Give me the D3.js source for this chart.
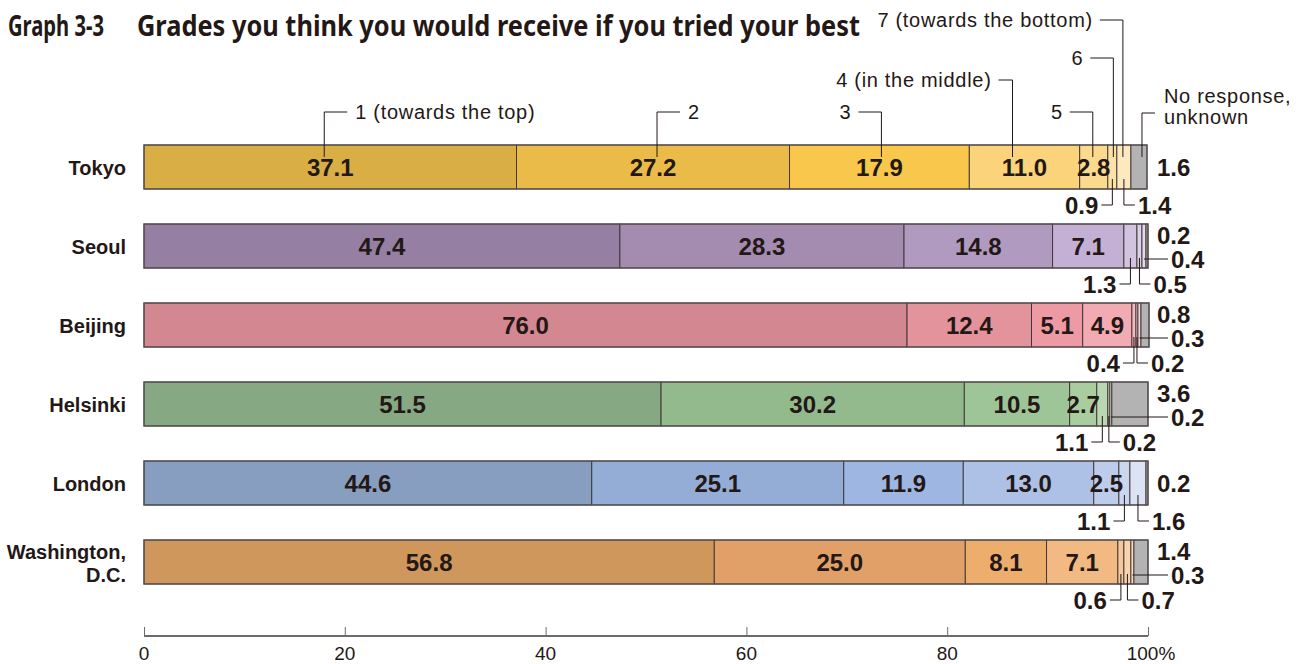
<!DOCTYPE html>
<html><head><meta charset="utf-8">
<script src="https://cdn.jsdelivr.net/npm/d3@7"></script>
<style>body{margin:0;background:#fff}svg{display:block}</style>
</head><body>
<svg id="c" width="1298" height="664"></svg>
<script>
// ---- data ----
const categories = ["Tokyo", "Seoul", "Beijing", "Helsinki", "London", "Washington, D.C."];
const seriesNames = ["1 (towards the top)", "2", "3", "4 (in the middle)", "5", "6", "7 (towards the bottom)", "No response, unknown"];
const tokyo      = [37.1, 27.2, 17.9, 11.0, 2.8, 0.9, 1.4, 1.6];
const seoul      = [47.4, 28.3, 14.8, 7.1, 1.3, 0.5, 0.4, 0.2];
const beijing    = [76.0, 12.4, 5.1, 4.9, 0.4, 0.2, 0.3, 0.8];
const helsinki   = [51.5, 30.2, 10.5, 2.7, 1.1, 0.2, 0.2, 3.6];
const london     = [44.6, 25.1, 11.9, 13.0, 2.5, 1.1, 1.6, 0.2];
const washington = [56.8, 25.0, 8.1, 7.1, 0.6, 0.7, 0.3, 1.4];
const tickValues = [0, 20, 40, 60, 80, 100];
const title = "Graph 3-3";
const subtitle = "Grades you think you would receive if you tried your best";

// ---- styles ----
const palettes = [
  ["#D8AE45","#EBBB4A","#F8C74B","#FAD37A","#FBDA8E","#FCE2A8","#FDE9BF","#B3B3B3"],
  ["#957FA2","#A48BB0","#B09ABF","#C4B0D4","#D2C3E0","#DCD0E8","#E4DAEE","#B3B3B3"],
  ["#D38790","#E2939C","#EE9AA5","#F2AAB3","#F5BBC2","#F7C8CE","#F9D4D9","#B3B3B3"],
  ["#86A882","#93BA8D","#9DC597","#AACD9F","#BAD7B1","#C8DFC0","#D4E6CD","#B3B3B3"],
  ["#889EC0","#94ADD6","#9DB6E2","#ACC1E5","#BCCCEA","#CAD7EF","#DBE3F5","#B3B3B3"],
  ["#CF975C","#E0A067","#ECAD6D","#F2B982","#F5C89B","#F8D3AE","#FADDBF","#B3B3B3"]
];
const ink = "#231815";
const rows = [tokyo, seoul, beijing, helsinki, london, washington];

const svg = d3.select("#c");
const x = d3.scaleLinear().domain([0, 100]).range([144, 1148]);
const pi = 35 / 79;
const y = d3.scaleBand().domain(categories).range([127.5, 127.5 + 6 * 79]).paddingInner(pi).paddingOuter(pi / 2);
const bh = y.bandwidth();

// title (condensed by horizontal scaling to the reference widths)
function fitText(str, x0, width) {
  const t = svg.append("text").attr("x", 0).attr("y", 36).attr("font-family", "'Noto Sans', sans-serif")
    .attr("font-weight", 700).attr("font-size", 28).attr("fill", ink).text(str);
  const w = t.node().getComputedTextLength();
  t.attr("transform", `translate(${x0},0) scale(${width / w},1)`);
}
fitText(title, 8, 96);
fitText(subtitle, 137, 723);

// stacked data
const stacked = rows.map((vals, ri) => {
  let acc = 0;
  return vals.map((v, si) => { const d = {row: ri, seg: si, v, x0: acc, x1: acc + v}; acc += v; return d; });
});

const g = svg.append("g");
stacked.forEach((segs, ri) => {
  const cat = categories[ri];
  const y0 = y(cat);
  g.selectAll(null).data(segs).enter().append("rect")
    .attr("x", d => x(d.x0)).attr("y", y0)
    .attr("width", d => x(d.x1) - x(d.x0)).attr("height", bh)
    .attr("fill", d => palettes[ri][d.seg])
    .attr("stroke", "#3a3030").attr("stroke-width", 0.9);
  // outer frame
  g.append("rect").attr("x", x(0)).attr("y", y0).attr("width", x(segs[7].x1) - x(0)).attr("height", bh)
    .attr("fill", "none").attr("stroke", "#5a5454").attr("stroke-width", 1.3);

  // inside labels
  g.selectAll(null).data(segs.filter(d => d.seg < 7 && d.v >= 2.5)).enter().append("text")
    .attr("x", d => (x(d.x0) + x(d.x1)) / 2).attr("y", y0 + bh / 2 + 8.5)
    .attr("text-anchor", "middle").attr("font-family", "'Liberation Sans', Arial, sans-serif")
    .attr("font-weight", 700).attr("font-size", 24).attr("fill", ink)
    .text(d => d.v.toFixed(1));

  // outside labels for small segments
  const small = segs.filter(d => d.seg === 7 || d.v < 2.5);
  const positions = small.length === 4 ? ["bl", "br", "r", "tr"] : ["bl", "br", "mid"];
  const right = x(100);
  small.forEach((d, i) => {
    const pos = positions[i];
    const xm = (x(d.x0) + x(d.x1)) / 2;
    const yb = y0 + bh;
    const t = g.append("text").attr("font-family", "'Liberation Sans', Arial, sans-serif")
      .attr("font-weight", 700).attr("font-size", 24).attr("fill", ink).text(d.v.toFixed(1));
    if (pos === "bl" || pos === "br") {
      const ly = yb + 16;
      const dir = pos === "bl" ? -1 : 1;
      g.append("path").attr("d", `M${xm},${yb - 10}V${ly}H${xm + dir * 11}`)
        .attr("fill", "none").attr("stroke", ink).attr("stroke-width", 1);
      t.attr("x", xm + dir * 14).attr("y", ly + 8.5).attr("text-anchor", pos === "bl" ? "end" : "start");
    } else if (pos === "r") {
      const ly = y0 + 35;
      g.append("path").attr("d", `M${xm},${ly}H${right + 20}`)
        .attr("fill", "none").attr("stroke", ink).attr("stroke-width", 1);
      t.attr("x", right + 23).attr("y", ly + 8.5);
    } else if (pos === "tr") {
      t.attr("x", right + 9).attr("y", y0 + 11 + 8.5);
    } else {
      t.attr("x", right + 9).attr("y", y0 + bh / 2 + 8.5);
    }
  });

  // row labels
  const lab = svg.append("text").attr("text-anchor", "end").attr("font-family", "'Liberation Sans', Arial, sans-serif")
    .attr("font-weight", 700).attr("font-size", 20).attr("fill", ink);
  const parts = cat.indexOf(", ") > 0 ? [cat.split(", ")[0] + ",", cat.split(", ")[1]] : [cat];
  parts.forEach((p, k) => {
    lab.append("tspan").attr("x", 126)
      .attr("y", y0 + bh / 2 + 8 + (k - (parts.length - 1) / 2) * 23).text(p);
  });
});

// legend callouts on Tokyo bar
const legendY   = [112, 112, 112, 80, 112, 58, 20, 113];
const legendSide= ["r", "r", "l", "l", "l", "l", "l", "r"];
const legendOff = [-6, 4, 2, -12, -1, 1, -1, 3];
const ty = y(categories[0]);
stacked[0].forEach((d, i) => {
  const lx = (x(d.x0) + x(d.x1)) / 2 + legendOff[i];
  const ly = legendY[i];
  const side = legendSide[i];
  const hlen = i === 7 ? 13 : (i === 3 ? 14 : 23);
  const hx = side === "r" ? lx + hlen : lx - hlen;
  svg.append("path").attr("d", `M${lx},${ty + 12}V${ly}H${hx}`)
    .attr("fill", "none").attr("stroke", ink).attr("stroke-width", 1);
  const t = svg.append("text").attr("font-family", "'Liberation Sans', Arial, sans-serif")
    .attr("font-size", 20).attr("letter-spacing", 0.7).attr("fill", ink)
    .attr("text-anchor", side === "r" ? "start" : "end");
  if (i === 7) {
    const parts = seriesNames[i].split(" ");
    t.append("tspan").attr("x", hx + 9).attr("y", 103).text(parts[0] + " " + parts[1]);
    t.append("tspan").attr("x", hx + 9).attr("y", 124).text(parts[2]);
  } else {
    t.attr("x", side === "r" ? hx + 8 : hx - 7).attr("y", ly + 7).text(seriesNames[i]);
  }
});

// axis
const axis = d3.axisTop(x).tickValues(tickValues).tickSize(9).tickFormat(() => "");
const ag = svg.append("g").attr("transform", "translate(0,636)").call(axis);
ag.select(".domain").attr("stroke", "#6e6a6a").attr("stroke-width", 2).attr("d", `M${x(0)},0H${x(100)}`);
ag.selectAll(".tick line").attr("stroke", "#6e6a6a").attr("stroke-width", 1);
svg.append("g").selectAll("text").data(tickValues).enter().append("text")
  .attr("x", d => x(d) + (d === 100 ? 3 : 0)).attr("y", 660)
  .attr("text-anchor", "middle").attr("font-family", "'Liberation Sans', Arial, sans-serif")
  .attr("font-size", 19).attr("fill", ink)
  .text(d => d === 100 ? d + "%" : d);
</script>
</body></html>
